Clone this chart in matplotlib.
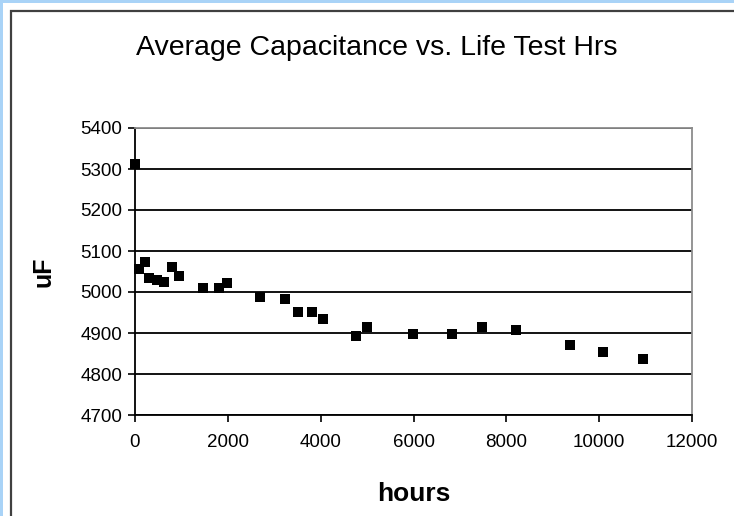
import matplotlib.pyplot as plt
from matplotlib.patches import Rectangle

# data
hours = [0, 93, 215, 309, 467, 632, 790, 955, 1458, 1817, 1990, 2694, 3233,
         3520, 3808, 4058, 4757, 4994, 5985, 6832, 7486, 8211, 9368, 10080, 10942]
capacitance = [5312, 5055, 5072, 5035, 5029, 5025, 5062, 5040, 5010, 5009, 5021,
               4989, 4983, 4952, 4952, 4933, 4893, 4914, 4898, 4898, 4914, 4907,
               4871, 4853, 4836]
x_ticks = [0, 2000, 4000, 6000, 8000, 10000, 12000]
y_ticks = [4700, 4800, 4900, 5000, 5100, 5200, 5300, 5400]

W, H = 734, 516
plt.rcParams['font.family'] = ['Liberation Sans', 'DejaVu Sans']

fig = plt.figure(figsize=(W / 100, H / 100), dpi=100)
fig.patch.set_facecolor('#a9d3f7')

# white page and dark chart frame (cropped at right/bottom)
fig.patches.append(Rectangle((3 / W, 0), 1, 1 - 3 / H, transform=fig.transFigure,
                             facecolor='white', edgecolor='none', zorder=-2))
fig.patches.append(Rectangle((11 / W, -0.1), 1.2, 1 + 0.1 - 11 / H, transform=fig.transFigure,
                             facecolor='none', edgecolor='#404040', linewidth=1.6, zorder=-1))

ax = fig.add_axes([135 / W, 1 - 415 / H, (692 - 135) / W, (415 - 128) / H])
ax.set_zorder(2)
ax.set_facecolor('white')
ax.scatter(hours, capacitance, marker='s', s=52, color='black', zorder=3, linewidths=0,
           clip_on=False)

ax.set_xlim(0, 12000)
ax.set_ylim(4700, 5400)
ax.set_xticks(x_ticks)
ax.set_yticks(y_ticks)
ax.tick_params(axis='both', direction='out', length=5, width=1.2, colors='black',
               labelsize=13.5)
ax.tick_params(axis='x', pad=9)
ax.tick_params(axis='y', pad=4)
ax.grid(axis='y', color='black', linewidth=1.3)
ax.set_axisbelow(True)

for side in ['left', 'bottom']:
    ax.spines[side].set_color('black')
    ax.spines[side].set_linewidth(1.3)
for side in ['top', 'right']:
    ax.spines[side].set_color('#8c8c8c')
    ax.spines[side].set_linewidth(1.3)

ax.set_xlabel('hours', fontsize=19, fontweight='bold', labelpad=22)
ax.set_ylabel('uF', fontsize=18, fontweight='bold', labelpad=18)
fig.text(377 / W, 1 - 48 / H, 'Average Capacitance vs. Life Test Hrs', fontsize=20.5,
         ha='center', va='center')

fig.savefig('out.png', dpi=100)
